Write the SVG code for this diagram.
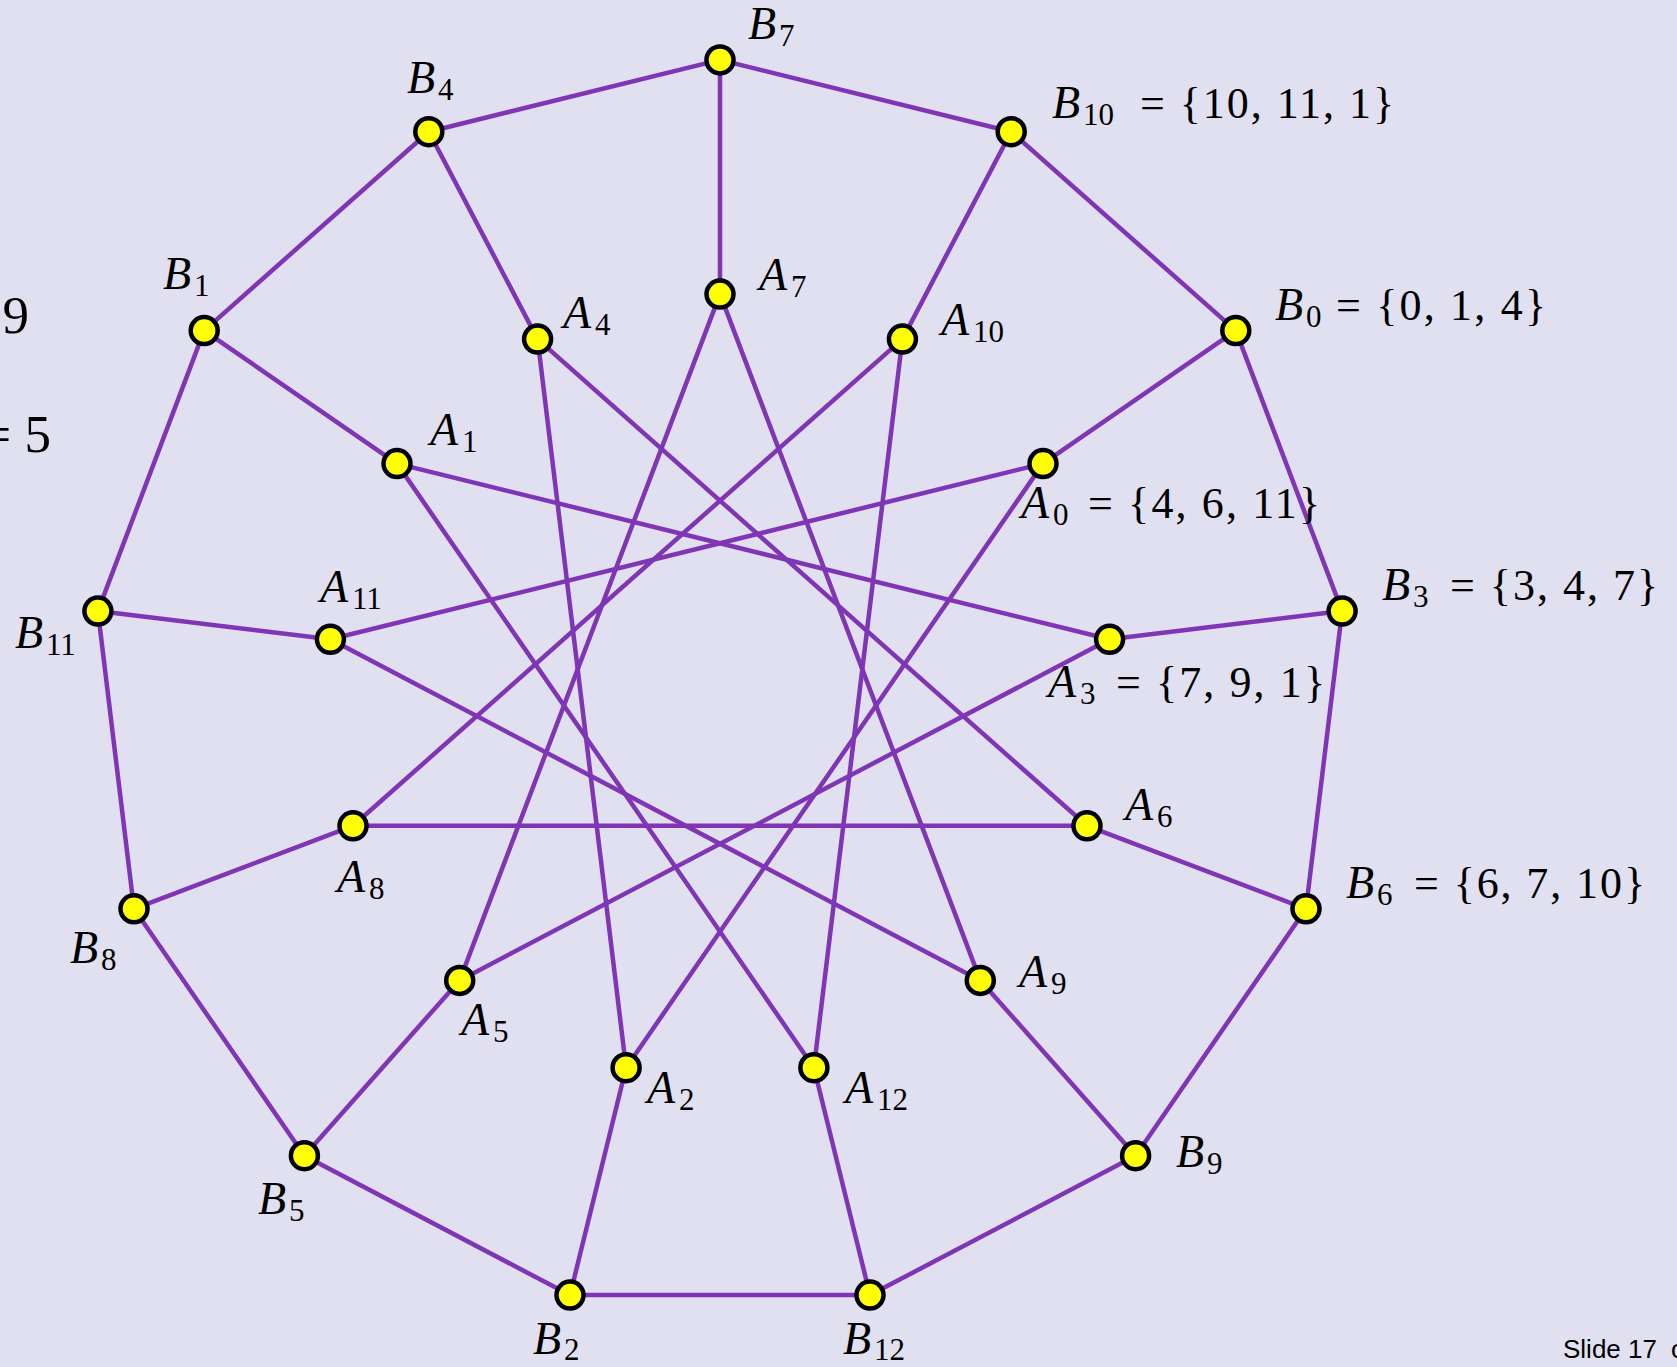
<svg xmlns="http://www.w3.org/2000/svg" width="1677" height="1367" viewBox="0 0 1677 1367">
<style>
.e{stroke:#7f35b5;stroke-width:4.5;stroke-linecap:round;fill:none}
.n{fill:#ffff00;stroke:#000;stroke-width:4.5}
.t{font-family:"Liberation Serif",serif;font-size:44px;fill:#000}
.v{font-style:italic;font-size:46px}
.s{font-size:31px}
.big{font-family:"Liberation Serif",serif;font-size:53px;fill:#000}
.foot{font-family:"Liberation Sans",Arial,sans-serif;font-size:26px;fill:#000}
</style>
<rect width="1677" height="1367" fill="#e0e0f0"/>
<text class="big" x="29" y="333" text-anchor="end">9</text>
<text class="big" x="51" y="452" text-anchor="end">= 5</text>
<text class="foot" x="1563" y="1358">Slide 17 <tspan x="1671">of</tspan></text>
<g id="connectors">
<line class="e" x1="720" y1="59.9" x2="1011.2" y2="131.7"/>
<line class="e" x1="1011.2" y1="131.7" x2="1235.8" y2="330.6"/>
<line class="e" x1="1235.8" y1="330.6" x2="1342.1" y2="611.1"/>
<line class="e" x1="1342.1" y1="611.1" x2="1306" y2="908.8"/>
<line class="e" x1="1306" y1="908.8" x2="1135.6" y2="1155.7"/>
<line class="e" x1="1135.6" y1="1155.7" x2="870" y2="1295.1"/>
<line class="e" x1="870" y1="1295.1" x2="570" y2="1295.1"/>
<line class="e" x1="570" y1="1295.1" x2="304.4" y2="1155.7"/>
<line class="e" x1="304.4" y1="1155.7" x2="134" y2="908.8"/>
<line class="e" x1="134" y1="908.8" x2="97.9" y2="611.1"/>
<line class="e" x1="97.9" y1="611.1" x2="204.2" y2="330.6"/>
<line class="e" x1="204.2" y1="330.6" x2="428.8" y2="131.7"/>
<line class="e" x1="428.8" y1="131.7" x2="720" y2="59.9"/>
<line class="e" x1="720" y1="59.9" x2="720" y2="294.1"/>
<line class="e" x1="1011.2" y1="131.7" x2="902.4" y2="339.1"/>
<line class="e" x1="1235.8" y1="330.6" x2="1043" y2="463.6"/>
<line class="e" x1="1342.1" y1="611.1" x2="1109.6" y2="639.3"/>
<line class="e" x1="1306" y1="908.8" x2="1087" y2="825.8"/>
<line class="e" x1="1135.6" y1="1155.7" x2="980.3" y2="980.4"/>
<line class="e" x1="870" y1="1295.1" x2="813.9" y2="1067.7"/>
<line class="e" x1="570" y1="1295.1" x2="626.1" y2="1067.7"/>
<line class="e" x1="304.4" y1="1155.7" x2="459.7" y2="980.4"/>
<line class="e" x1="134" y1="908.8" x2="353" y2="825.8"/>
<line class="e" x1="97.9" y1="611.1" x2="330.4" y2="639.3"/>
<line class="e" x1="204.2" y1="330.6" x2="397" y2="463.6"/>
<line class="e" x1="428.8" y1="131.7" x2="537.6" y2="339.1"/>
<line class="e" x1="720" y1="294.1" x2="980.3" y2="980.4"/>
<line class="e" x1="902.4" y1="339.1" x2="813.9" y2="1067.7"/>
<line class="e" x1="1043" y1="463.6" x2="626.1" y2="1067.7"/>
<line class="e" x1="1109.6" y1="639.3" x2="459.7" y2="980.4"/>
<line class="e" x1="1087" y1="825.8" x2="353" y2="825.8"/>
<line class="e" x1="980.3" y1="980.4" x2="330.4" y2="639.3"/>
<line class="e" x1="813.9" y1="1067.7" x2="397" y2="463.6"/>
<line class="e" x1="626.1" y1="1067.7" x2="537.6" y2="339.1"/>
<line class="e" x1="459.7" y1="980.4" x2="720" y2="294.1"/>
<line class="e" x1="353" y1="825.8" x2="902.4" y2="339.1"/>
<line class="e" x1="330.4" y1="639.3" x2="1043" y2="463.6"/>
<line class="e" x1="397" y1="463.6" x2="1109.6" y2="639.3"/>
<line class="e" x1="537.6" y1="339.1" x2="1087" y2="825.8"/>
</g>
<g id="B7"><circle class="n" cx="720" cy="59.9" r="13.5"/><text class="t" x="748" y="39"><tspan class="v">B</tspan><tspan class="s" x="779" dy="7">7</tspan></text></g>
<g id="B10"><circle class="n" cx="1011.2" cy="131.7" r="13.5"/><text class="t" x="1052" y="118"><tspan class="v">B</tspan><tspan class="s" x="1083" dy="7">10</tspan><tspan x="1140" dy="-7" textLength="254" lengthAdjust="spacing">= {10, 11, 1}</tspan></text></g>
<g id="B0"><circle class="n" cx="1235.8" cy="330.6" r="13.5"/><text class="t" x="1275" y="320"><tspan class="v">B</tspan><tspan class="s" x="1306" dy="7">0</tspan><tspan x="1336" dy="-7" textLength="210" lengthAdjust="spacing">= {0, 1, 4}</tspan></text></g>
<g id="B3"><circle class="n" cx="1342.1" cy="611.1" r="13.5"/><text class="t" x="1382" y="600"><tspan class="v">B</tspan><tspan class="s" x="1413" dy="7">3</tspan><tspan x="1450" dy="-7" textLength="208" lengthAdjust="spacing">= {3, 4, 7}</tspan></text></g>
<g id="B6"><circle class="n" cx="1306" cy="908.8" r="13.5"/><text class="t" x="1346" y="898"><tspan class="v">B</tspan><tspan class="s" x="1377" dy="7">6</tspan><tspan x="1414" dy="-7" textLength="231" lengthAdjust="spacing">= {6, 7, 10}</tspan></text></g>
<g id="B9"><circle class="n" cx="1135.6" cy="1155.7" r="13.5"/><text class="t" x="1176" y="1167"><tspan class="v">B</tspan><tspan class="s" x="1207" dy="7">9</tspan></text></g>
<g id="B12"><circle class="n" cx="870" cy="1295.1" r="13.5"/><text class="t" x="843" y="1354"><tspan class="v">B</tspan><tspan class="s" x="874" dy="6">12</tspan></text></g>
<g id="B2"><circle class="n" cx="570" cy="1295.1" r="13.5"/><text class="t" x="533" y="1354"><tspan class="v">B</tspan><tspan class="s" x="564" dy="6">2</tspan></text></g>
<g id="B5"><circle class="n" cx="304.4" cy="1155.7" r="13.5"/><text class="t" x="258" y="1214"><tspan class="v">B</tspan><tspan class="s" x="289" dy="7">5</tspan></text></g>
<g id="B8"><circle class="n" cx="134" cy="908.8" r="13.5"/><text class="t" x="70" y="963"><tspan class="v">B</tspan><tspan class="s" x="101" dy="7">8</tspan></text></g>
<g id="B11"><circle class="n" cx="97.9" cy="611.1" r="13.5"/><text class="t" x="15" y="648"><tspan class="v">B</tspan><tspan class="s" x="46" dy="7">11</tspan></text></g>
<g id="B1"><circle class="n" cx="204.2" cy="330.6" r="13.5"/><text class="t" x="163" y="289"><tspan class="v">B</tspan><tspan class="s" x="194" dy="7">1</tspan></text></g>
<g id="B4"><circle class="n" cx="428.8" cy="131.7" r="13.5"/><text class="t" x="407" y="93"><tspan class="v">B</tspan><tspan class="s" x="438" dy="7">4</tspan></text></g>
<g id="A7"><circle class="n" cx="720" cy="294.1" r="13.5"/><text class="t" x="759" y="290"><tspan class="v">A</tspan><tspan class="s" x="791" dy="7">7</tspan></text></g>
<g id="A10"><circle class="n" cx="902.4" cy="339.1" r="13.5"/><text class="t" x="941" y="335"><tspan class="v">A</tspan><tspan class="s" x="973" dy="7">10</tspan></text></g>
<g id="A0"><circle class="n" cx="1043" cy="463.6" r="13.5"/><text class="t" x="1021" y="518"><tspan class="v">A</tspan><tspan class="s" x="1053" dy="7">0</tspan><tspan x="1088" dy="-7" textLength="232" lengthAdjust="spacing">= {4, 6, 11}</tspan></text></g>
<g id="A3"><circle class="n" cx="1109.6" cy="639.3" r="13.5"/><text class="t" x="1048" y="697"><tspan class="v">A</tspan><tspan class="s" x="1080" dy="7">3</tspan><tspan x="1116" dy="-7" textLength="209" lengthAdjust="spacing">= {7, 9, 1}</tspan></text></g>
<g id="A6"><circle class="n" cx="1087" cy="825.8" r="13.5"/><text class="t" x="1125" y="820"><tspan class="v">A</tspan><tspan class="s" x="1157" dy="7">6</tspan></text></g>
<g id="A9"><circle class="n" cx="980.3" cy="980.4" r="13.5"/><text class="t" x="1019" y="987"><tspan class="v">A</tspan><tspan class="s" x="1051" dy="7">9</tspan></text></g>
<g id="A12"><circle class="n" cx="813.9" cy="1067.7" r="13.5"/><text class="t" x="845" y="1103"><tspan class="v">A</tspan><tspan class="s" x="877" dy="7">12</tspan></text></g>
<g id="A2"><circle class="n" cx="626.1" cy="1067.7" r="13.5"/><text class="t" x="647" y="1103"><tspan class="v">A</tspan><tspan class="s" x="679" dy="7">2</tspan></text></g>
<g id="A5"><circle class="n" cx="459.7" cy="980.4" r="13.5"/><text class="t" x="461" y="1035"><tspan class="v">A</tspan><tspan class="s" x="493" dy="7">5</tspan></text></g>
<g id="A8"><circle class="n" cx="353" cy="825.8" r="13.5"/><text class="t" x="337" y="892"><tspan class="v">A</tspan><tspan class="s" x="369" dy="7">8</tspan></text></g>
<g id="A11"><circle class="n" cx="330.4" cy="639.3" r="13.5"/><text class="t" x="320" y="602"><tspan class="v">A</tspan><tspan class="s" x="352" dy="7">11</tspan></text></g>
<g id="A1"><circle class="n" cx="397" cy="463.6" r="13.5"/><text class="t" x="430" y="445"><tspan class="v">A</tspan><tspan class="s" x="462" dy="7">1</tspan></text></g>
<g id="A4"><circle class="n" cx="537.6" cy="339.1" r="13.5"/><text class="t" x="563" y="328"><tspan class="v">A</tspan><tspan class="s" x="595" dy="7">4</tspan></text></g>
</svg>
